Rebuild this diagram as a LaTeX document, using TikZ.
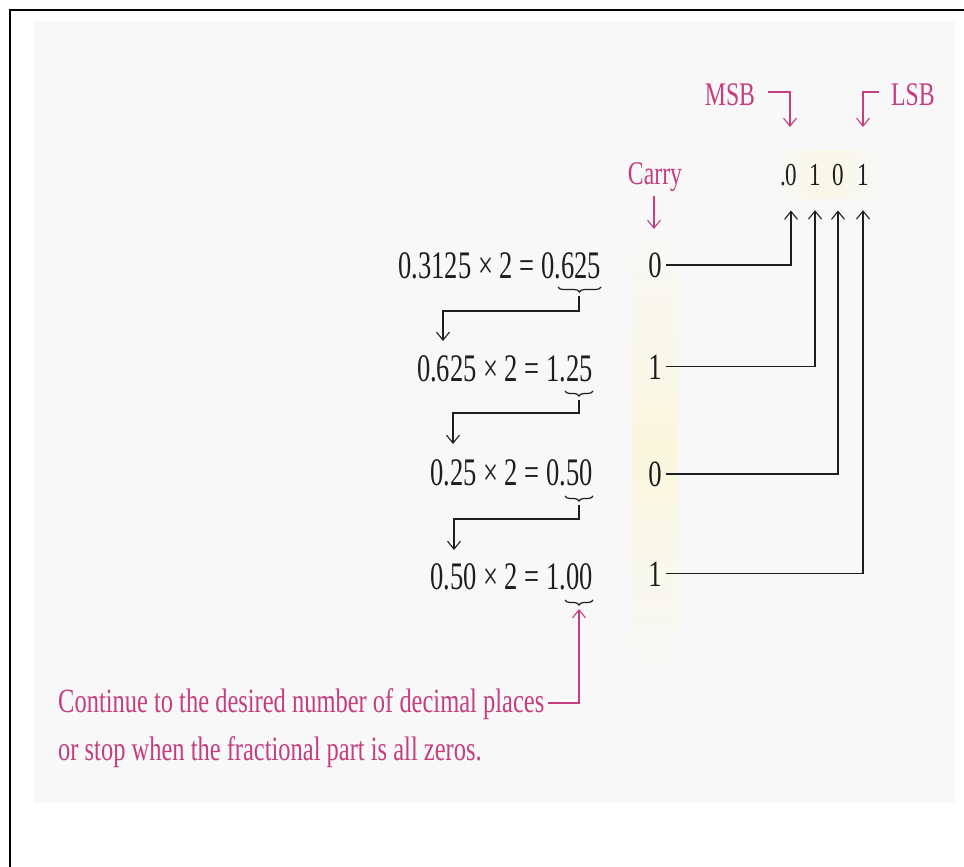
\documentclass[tikz,border=0pt]{standalone}
\usepackage{fontspec}
\setmainfont{Liberation Serif}[FakeStretch=0.72]
\newfontfamily\eqfont{Liberation Serif}[FakeStretch=0.68]
\usetikzlibrary{arrows.meta,decorations.pathreplacing,calc}
\definecolor{pinkish}{RGB}{196,62,128}
\definecolor{panel}{RGB}{248,248,248}
\definecolor{glow}{RGB}{250,247,222}
\definecolor{ink}{RGB}{30,30,30}
\tikzset{
  eqn/.style={inner sep=0pt, anchor=base east, font=\eqfont\fontsize{39}{42}\selectfont, text=ink},
  carrybit/.style={inner sep=0pt, anchor=base, font=\fontsize{37}{40}\selectfont, text=ink},
  bit/.style={inner sep=0pt, anchor=base, font=\fontsize{32}{35}\selectfont, text=ink},
  tag/.style={inner sep=0pt, font=\fontsize{33}{36}\selectfont, text=pinkish},
  note/.style={inner sep=0pt, anchor=base west, font=\fontsize{34}{37}\selectfont, text=pinkish},
  barb/.tip={Straight Barb[length=8pt,width=13pt,line width=1.1pt]},
  wire/.style={draw=ink, line width=1.4pt},
  flow/.style={wire, -barb},
  pinkflow/.style={draw=pinkish, line width=1.1pt, -barb},
  ubrace/.style={draw=ink, line width=1.2pt, decorate,
    decoration={brace, mirror, amplitude=5pt}}
}
\begin{document}
\begin{tikzpicture}[x=1pt, y=-1pt]
  \useasboundingbox (0,0) rectangle (964,867);
  % page frame and panel
  \fill[white] (0,0) rectangle (964,867);
  \fill[panel] (34,21) rectangle (955,803);
  \shade[left color=panel, right color=panel, middle color=glow, shading angle=0]
    (632,232) rectangle (678,668);
  \shade[left color=panel, right color=panel, middle color=glow!70!panel]
    (772,150) rectangle (884,198);
  \draw[line width=2.2pt] (10,867) -- (10,10) -- (964,10);

  % multiplication steps
  \node[eqn] (e1) at (601,278) {0.3125 × 2 = 0.625};
  \node[eqn] (e2) at (593,381) {0.625 × 2 = 1.25};
  \node[eqn] (e3) at (593,485) {0.25 × 2 = 0.50};
  \node[eqn] (e4) at (593,589) {0.50 × 2 = 1.00};

  % braces under the fractional parts
  \draw[ubrace] (558,287) -- (601,287);
  \draw[ubrace] (565,391) -- (593,391);
  \draw[ubrace] (565,496) -- (593,496);
  \draw[ubrace] (565,600) -- (593,600);
  \coordinate (b1) at (579,296);
  \coordinate (b2) at (579,400);
  \coordinate (b3) at (579,505);
  \coordinate (b4) at (579,609);

  % fractional part carried to the next step
  \draw[flow] (b1) -- (579,311) -- (443,311) -- (443,341);
  \draw[flow] (b2) -- (579,413) -- (453,413) -- (453,444);
  \draw[flow] (b3) -- (579,519) -- (454,519) -- (454,550);

  % carry column
  \node[tag, anchor=base] (carry) at (655,184) {Carry};
  \node[carrybit] (c0) at (655,277) {0};
  \node[carrybit] (c1) at (655,379) {1};
  \node[carrybit] (c2) at (655,486) {0};
  \node[carrybit] (c3) at (655,586) {1};
  \draw[pinkflow] (654,196) -- (654,229);

  % binary result
  \node[bit] (dot) at (783,185) {.};
  \node[bit] (r0) at (791,185) {0};
  \node[bit] (r1) at (815,185) {1};
  \node[bit] (r2) at (838,185) {0};
  \node[bit] (r3) at (863,185) {1};

  \draw[flow] ([xshift=4pt]c0.east) -| ([yshift=-25pt]r0.south);
  \draw[flow] ([xshift=4pt]c1.east) -| ([yshift=-25pt]r1.south);
  \draw[flow] ([xshift=4pt]c2.east) -| ([yshift=-25pt]r2.south);
  \draw[flow] ([xshift=4pt]c3.east) -| ([yshift=-25pt]r3.south);

  % MSB / LSB labels
  \node[tag] (msb) at (730,95) {MSB};
  \node[tag] (lsb) at (913,95) {LSB};
  \draw[pinkflow] (768,92) -- (790,92) -- (790,127);
  \draw[pinkflow] (879,92) -- (863,92) -- (863,127);

  % stopping rule
  \node[note] (t1) at (58,712) {Continue to the desired number of decimal places};
  \node[note] (t2) at (58,760) {or stop when the fractional part is all zeros.};
  \draw[pinkflow] ([xshift=4pt]t1.east |- 0,703) -- (579,703) -- (b4);
\end{tikzpicture}
\end{document}
